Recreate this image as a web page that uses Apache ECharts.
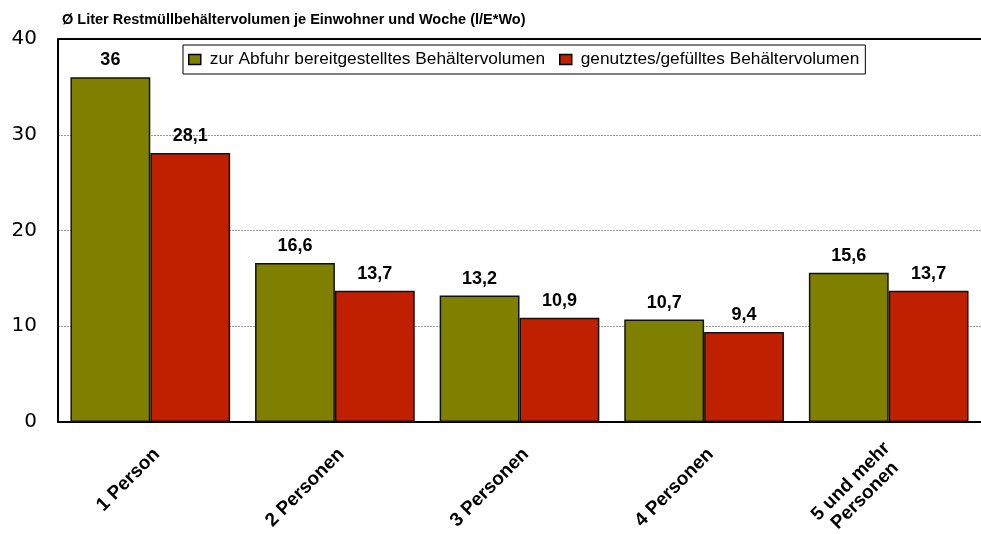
<!DOCTYPE html>
<html>
<head>
<meta charset="utf-8">
<script src="https://cdn.jsdelivr.net/npm/echarts@6/dist/echarts.min.js"></script>
<style>
html,body{margin:0;padding:0;background:#fff;}
#c{width:981px;height:534px;}
</style>
</head>
<body>
<div id="c"></div>
<script>
var categories = ['1 Person', '2 Personen', '3 Personen', '4 Personen', '5 und mehr\nPersonen'];
var bereitgestellt = [36, 16.6, 13.2, 10.7, 15.6];
var genutzt = [28.1, 13.7, 10.9, 9.4, 13.7];
var seriesNames = ['zur Abfuhr bereitgestelltes Behältervolumen', 'genutztes/gefülltes Behältervolumen'];
var yTicks = [0, 10, 20, 30, 40];
var titleText = 'Ø Liter Restmüllbehältervolumen je Einwohner und Woche (l/E*Wo)';

var sans = '"Liberation Sans", Arial, sans-serif';
var chart = echarts.init(document.getElementById('c'), null, {renderer: 'canvas'});

function fmt(v) { return String(v).replace('.', ','); }

var labelCfg = {
  show: true,
  position: 'top',
  distance: 8,
  fontFamily: sans,
  fontWeight: 'bold',
  fontSize: 18,
  color: '#000',
  formatter: function (p) { return fmt(p.value); }
};

chart.setOption({
  animation: false,
  title: {
    text: titleText,
    left: 57,
    top: 7,
    textStyle: {fontFamily: sans, fontWeight: 'bold', fontSize: 14.5, color: '#000'}
  },
  legend: {
    left: 183,
    top: 45,
    itemGap: 14,
    padding: [6, 6, 6, 5],
    borderColor: '#000',
    borderWidth: 1,
    itemWidth: 12,
    itemHeight: 10,
    icon: 'rect',
    textStyle: {fontFamily: sans, fontSize: 17.3, color: '#000', padding: [0, 0, 0, 4]},
    data: seriesNames.map(function (n) { return {name: n, itemStyle: {borderColor: '#000', borderWidth: 1.5}}; })
  },
  grid: {left: 58, right: 0, top: 39, bottom: 112, containLabel: false, outerBoundsMode: 'none'},
  xAxis: {
    type: 'category',
    data: categories,
    axisLine: {lineStyle: {color: '#000', width: 2}},
    axisTick: {show: false},
    axisLabel: {
      rotate: 45,
      interval: 0,
      margin: 16,
      fontFamily: sans,
      fontWeight: 'bold',
      fontSize: 19,
      color: '#000',
      padding: [28, 5, 0, 0],
      formatter: function (v) {
        var parts = v.split('\n');
        if (parts.length > 1) {
          return parts.map(function (p) { return '{m|' + p + '}'; }).join('\n');
        }
        return v;
      },
      rich: {
        m: {fontFamily: sans, fontWeight: 'bold', fontSize: 19, color: '#000', width: 105, align: 'center', lineHeight: 20}
      }
    }
  },
  yAxis: {
    type: 'value',
    min: yTicks[0],
    max: yTicks[yTicks.length - 1],
    interval: 10,
    axisLine: {show: true, lineStyle: {color: '#000', width: 2}},
    axisTick: {show: false},
    axisLabel: {fontFamily: '"DejaVu Sans", Verdana, sans-serif', fontSize: 20, color: '#000', margin: 21},
    splitLine: {show: true, lineStyle: {color: '#555', type: [2, 1], width: 0.6}}
  },
  series: [
    {
      name: seriesNames[0],
      type: 'bar',
      data: bereitgestellt,
      barGap: '0%',
      barCategoryGap: '13.5%',
      itemStyle: {color: '#808000', borderColor: '#111', borderWidth: 1.5},
      label: labelCfg
    },
    {
      name: seriesNames[1],
      type: 'bar',
      data: genutzt,
      itemStyle: {color: '#c02000', borderColor: '#111', borderWidth: 1.5},
      label: labelCfg
    }
  ],
  graphic: [{
    type: 'line',
    shape: {x1: 58, y1: 39, x2: 981, y2: 39},
    style: {stroke: '#000', lineWidth: 2},
    z: 10
  }]
});
</script>
</body>
</html>
